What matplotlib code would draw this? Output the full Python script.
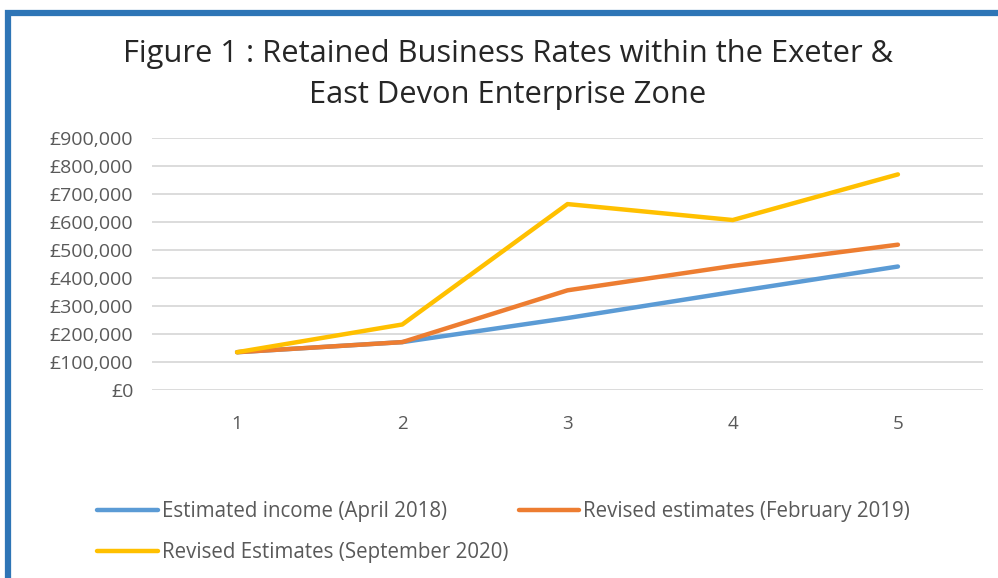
import matplotlib.pyplot as plt
from matplotlib.patches import Rectangle
from matplotlib.ticker import FuncFormatter

years = [1, 2, 3, 4, 5]
estimated_2018 = [135000, 171000, 257000, 350000, 441000]
revised_2019 = [135000, 171000, 356000, 443000, 519000]
revised_2020 = [135000, 234000, 664000, 607000, 770000]
series_labels = ['Estimated income (April 2018)',
                 'Revised estimates (February 2019)',
                 'Revised Estimates (September 2020)']
colors = ['#5B9BD5', '#ED7D31', '#FFC000']

plt.rcParams['font.family'] = ['Open Sans', 'DejaVu Sans']
grey = '#595959'

fig = plt.figure(figsize=(9.98, 5.78), dpi=100)
W, H = 998, 578
ax = fig.add_axes([152 / W, 1 - 390 / H, (983 - 152) / W, (390 - 138) / H])

lines = []
for vals, lab, c in zip([estimated_2018, revised_2019, revised_2020], series_labels, colors):
    ln, = ax.plot(years, vals, color=c, lw=3.2, label=lab, solid_capstyle='round',
                  solid_joinstyle='round')
    lines.append(ln)

ax.set_xlim(0.485, 5.515)
ax.set_ylim(0, 900000)
ax.set_yticks(range(0, 900001, 100000))
ax.set_xticks(years)
ax.yaxis.set_major_formatter(FuncFormatter(lambda v, p: '£{:,.0f}'.format(v)))
ax.grid(axis='y', color='#D9D9D9', lw=1.3)
ax.set_axisbelow(True)
for s in ax.spines.values():
    s.set_visible(False)
ax.tick_params(length=0, colors=grey, labelsize=14)
ax.tick_params(axis='x', pad=18, labelsize=13.5)
ax.tick_params(axis='y', pad=13.5)

fig.text(508 / W, 1 - 74.5 / H,
         'Figure 1 : Retained Business Rates within the Exeter &\nEast Devon Enterprise Zone',
         ha='center', va='center', fontsize=22.2, color='#262626', linespacing=1.47)

order = [0, 2, 1]
fig.legend([lines[i] for i in order], [series_labels[i] for i in order],
           ncol=2, loc='upper left', bbox_to_anchor=(89 / W, 1 - 493 / H),
           borderaxespad=0, frameon=False, fontsize=14.8, labelcolor=grey,
           handlelength=2.95, handletextpad=0.2, columnspacing=0.5, labelspacing=0.98)

# blue border (top and left edges visible)
fig.patches.append(Rectangle((8 / W, -0.1), 1.2, 1 - 13.5 / H + 0.1, transform=fig.transFigure,
                             fill=False, edgecolor='#2E75B6', lw=4.5))

fig.savefig('out.png', dpi=100)
